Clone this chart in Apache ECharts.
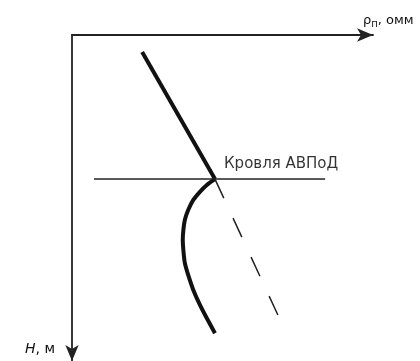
<!DOCTYPE html>
<html><head><meta charset="utf-8">
<script src="https://cdn.jsdelivr.net/npm/echarts@6/dist/echarts.min.js"></script>
<style>html,body{margin:0;padding:0;background:#fff}#c{width:420px;height:361px}</style>
</head><body><div id="c"></div>
<script>
// Schematic data: apparent resistivity ρп (relative units 0–100) vs depth H (relative units 0–100, downward)
const upperRho = [23.3, 47.5];
const upperH   = [5.2, 44.2];
const curveRho = [47.5, 44.8, 42.5, 40.3, 38.6, 37.5, 37.0, 36.8, 37.0, 37.5, 38.6, 40.3, 42.5, 44.8, 47.5];
const curveH   = [44.2, 46.0, 48.1, 50.6, 53.7, 56.7, 59.8, 62.9, 66.0, 70.0, 73.6, 78.2, 82.8, 86.9, 91.5];
const trendRho = [47.5, 68.4];
const trendH   = [44.2, 85.9];
const roofRho  = [7.3, 84.1];
const roofH    = 44.2;
const roofLabel = 'Кровля АВПоД';
const xAxisName = '{a|ρ}{s|п}{a|, омм}';
const yAxisName = '{i|Н}{a|, м}';

const zip = (xs, ys) => xs.map((x, i) => [x, ys[i]]);
const FONT = 'DejaVu Sans';
const INK = '#111';

const chart = echarts.init(document.getElementById('c'), null, {renderer: 'canvas'});
chart.setOption({
  animation: false,
  backgroundColor: '#fff',
  grid: {left: 72, top: 35, right: 47, bottom: 0, containLabel: false, outerBoundsMode: 'none'},
  xAxis: {
    type: 'value', position: 'top', min: 0, max: 100,
    axisLine: {show: true, onZero: false, symbol: ['none', 'arrow'], symbolSize: [10, 16],
      lineStyle: {color: '#222', width: 1.8}},
    axisTick: {show: false}, axisLabel: {show: false}, splitLine: {show: false},
    name: xAxisName, nameLocation: 'end', nameGap: -10,
    nameTextStyle: {
      align: 'left', verticalAlign: 'bottom', padding: [0, 0, 6, 0],
      rich: {
        a: {fontFamily: FONT, fontSize: 13, color: '#111'},
        s: {fontFamily: FONT, fontSize: 10, color: '#111', padding: [7, 0, 0, 0]}
      }
    }
  },
  yAxis: {
    type: 'value', inverse: true, min: 0, max: 100,
    axisLine: {show: true, onZero: false, symbol: ['arrow', 'none'], symbolSize: [10, 16],
      lineStyle: {color: '#222', width: 1.8}},
    axisTick: {show: false}, axisLabel: {show: false}, splitLine: {show: false},
    name: yAxisName, nameLocation: 'end', nameGap: -12,
    nameTextStyle: {
      align: 'right', verticalAlign: 'middle', padding: [0, 17, 0, 0],
      rich: {
        i: {fontFamily: FONT, fontSize: 14, fontStyle: 'italic', color: '#111'},
        a: {fontFamily: FONT, fontSize: 14, color: '#111'}
      }
    }
  },
  series: [
    {type: 'line', data: zip(upperRho, upperH), symbol: 'none',
      lineStyle: {color: INK, width: 4}},
    {type: 'line', data: zip(curveRho, curveH), symbol: 'none', smooth: 0.3,
      lineStyle: {color: INK, width: 4}},
    {type: 'line', data: zip(trendRho, trendH), symbol: 'none',
      lineStyle: {color: '#222', width: 1.5, type: [21, 22]}},
    {type: 'line', data: roofRho.map(r => [r, roofH]), symbol: 'none',
      lineStyle: {color: '#222', width: 1.5}},
    {type: 'scatter', data: [[upperRho[1], roofH]], symbolSize: 0, silent: true,
      label: {show: true, formatter: roofLabel, position: 'right', offset: [4, -15],
        fontFamily: FONT, fontSize: 15, color: '#000'}}
  ]
});
</script></body></html>
